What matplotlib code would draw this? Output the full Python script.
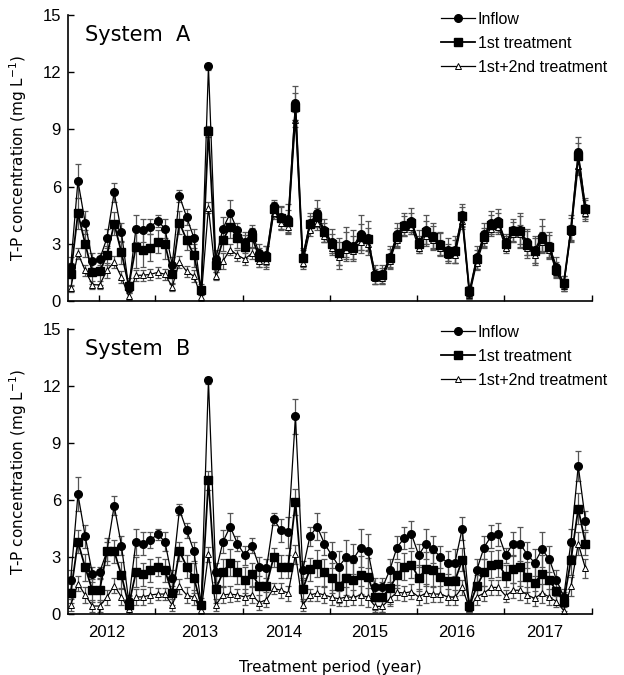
import numpy as np
import matplotlib
matplotlib.use("Agg")
from matplotlib import pyplot as plt
from matplotlib import font_manager

# narrow font for ticks / legend if available, else Liberation Sans
names = {f.name for f in font_manager.fontManager.ttflist}
NARROW = 'Liberation Sans Narrow' if 'Liberation Sans Narrow' in names else 'Liberation Sans'

# ---- data: monthly samples, index 0..71 (Jan 2012 - Dec 2017)
inflow = [1.8, 6.3, 4.1, 2.1, 2.2, 3.3, 5.7, 3.6, 0.7, 3.8, 3.7, 3.9,
          4.2, 3.8, 1.9, 5.5, 4.4, 3.3, 0.5, 12.3, 2.2, 3.8, 4.6, 3.7,
          3.1, 3.6, 2.5, 2.4, 5.0, 4.4, 4.3, 10.4, 2.3, 4.1, 4.6, 3.7,
          3.1, 2.5, 3.0, 2.9, 3.5, 3.3, 1.4, 1.4, 2.3, 3.5, 4.0, 4.2,
          3.1, 3.7, 3.4, 3.0, 2.7, 2.7, 4.5, 0.4, 2.3, 3.5, 4.1, 4.2,
          3.1, 3.7, 3.7, 3.1, 2.7, 3.4, 2.9, 1.8, 0.9, 3.8, 7.8, 4.9]
inflow_err = [0.5, 0.9, 0.6, 0.4, 0.3, 0.5, 0.5, 0.5, 0.3, 0.7, 0.6, 0.4,
              0.3, 0.5, 0.4, 0.3, 0.4, 0.5, 0.2, 0.2, 0.5, 0.6, 0.7, 0.4,
              0.5, 0.4, 0.5, 0.5, 0.3, 0.6, 0.8, 0.9, 0.5, 0.5, 0.7, 0.6,
              0.7, 0.8, 0.9, 0.8, 1.0, 0.9, 0.5, 0.5, 0.6, 0.6, 0.6, 0.7,
              0.6, 0.8, 0.7, 0.6, 0.6, 0.7, 0.6, 0.3, 0.6, 0.6, 0.6, 0.6,
              0.4, 0.6, 0.9, 0.7, 0.7, 0.9, 0.7, 0.5, 0.4, 0.7, 0.8, 0.5]

# System A
a_first = [1.4, 4.6, 3.0, 1.5, 1.55, 2.4, 4.05, 2.55, 0.8, 2.85, 2.7, 2.8,
           3.1, 3.0, 1.4, 4.1, 3.2, 2.4, 0.6, 8.9, 1.9, 3.2, 3.9, 3.3,
           2.85, 3.35, 2.3, 2.3, 4.8, 4.35, 4.15, 10.2, 2.25, 4.05, 4.4, 3.6,
           3.0, 2.5, 2.9, 2.8, 3.35, 3.25, 1.3, 1.35, 2.25, 3.35, 3.95, 4.1,
           3.0, 3.6, 3.35, 2.95, 2.5, 2.6, 4.45, 0.5, 2.2, 3.35, 4.0, 4.1,
           3.0, 3.65, 3.65, 2.95, 2.6, 3.25, 2.85, 1.65, 0.93, 3.75, 7.6, 4.8]
a_first_err = [0.6, 0.8, 0.7, 0.6, 0.7, 0.5, 0.6, 0.6, 0.4, 1.1, 0.9, 0.7,
               0.6, 0.8, 0.5, 0.6, 0.5, 0.6, 0.3, 0.3, 0.4, 0.6, 0.6, 0.5,
               0.6, 0.5, 0.5, 0.6, 0.4, 0.6, 0.6, 0.7, 0.4, 0.4, 0.5, 0.5,
               0.5, 0.6, 0.7, 0.6, 0.7, 0.6, 0.4, 0.4, 0.5, 0.5, 0.5, 0.5,
               0.4, 0.6, 0.6, 0.6, 0.5, 0.6, 0.5, 0.3, 0.5, 0.5, 0.5, 0.5,
               0.4, 0.5, 0.8, 0.7, 0.7, 0.7, 0.6, 0.4, 0.4, 0.6, 0.7, 0.5]
a_second = [0.66, 2.5, 1.6, 0.85, 0.85, 1.6, 2.05, 1.25, 0.25, 1.35, 1.35, 1.4,
            1.5, 1.4, 0.75, 2.05, 1.55, 1.3, 0.2, 4.9, 1.3, 2.1, 2.7, 2.4,
            2.2, 2.5, 2.1, 2.1, 4.6, 4.1, 3.9, 9.5, 2.0, 3.7, 4.1, 3.4,
            2.8, 2.3, 2.7, 2.6, 3.1, 3.0, 1.2, 1.2, 2.1, 3.2, 3.8, 3.9,
            2.8, 3.4, 3.2, 2.8, 2.4, 2.4, 4.2, 0.3, 2.0, 3.2, 3.8, 3.9,
            2.8, 3.5, 3.5, 2.8, 2.4, 3.1, 2.7, 1.5, 0.8, 3.6, 7.1, 4.6]
a_second_err = [0.2, 0.3, 0.3, 0.2, 0.2, 0.4, 0.3, 0.3, 0.2, 0.3, 0.3, 0.3,
                0.3, 0.3, 0.2, 0.3, 0.3, 0.3, 0.2, 0.3, 0.2, 0.4, 0.3, 0.3,
                0.3, 0.3, 0.3, 0.3, 0.3, 0.3, 0.3, 0.4, 0.3, 0.3, 0.4, 0.3,
                0.3, 0.4, 0.4, 0.4, 0.4, 0.4, 0.3, 0.3, 0.3, 0.4, 0.4, 0.4,
                0.3, 0.4, 0.4, 0.4, 0.3, 0.4, 0.4, 0.2, 0.4, 0.4, 0.4, 0.4,
                0.3, 0.4, 0.5, 0.4, 0.4, 0.5, 0.4, 0.3, 0.3, 0.4, 0.5, 0.4]

# System B
b_first = [1.1, 3.8, 2.45, 1.25, 1.25, 3.3, 3.3, 2.05, 0.45, 2.2, 2.1, 2.3,
           2.5, 2.3, 1.1, 3.3, 2.5, 1.9, 0.45, 7.05, 1.3, 2.2, 2.7, 2.2,
           1.8, 2.1, 1.5, 1.5, 3.0, 2.5, 2.5, 5.9, 1.3, 2.35, 2.65, 2.2,
           1.9, 1.5, 1.9, 1.8, 2.05, 1.95, 0.9, 0.9, 1.35, 2.05, 2.5, 2.6,
           1.9, 2.35, 2.3, 1.95, 1.75, 1.75, 2.85, 0.42, 1.45, 2.2, 2.6, 2.65,
           2.0, 2.35, 2.45, 1.95, 1.65, 2.1, 1.8, 1.2, 0.65, 2.85, 5.55, 3.7]
b_first_err = [0.5, 0.6, 0.7, 0.6, 0.6, 0.7, 0.6, 0.7, 0.5, 0.8, 0.6, 0.6,
               0.5, 0.6, 0.6, 0.5, 0.6, 0.8, 0.4, 0.5, 0.7, 0.7, 0.7, 0.6,
               0.7, 0.6, 0.9, 0.9, 0.5, 0.6, 0.6, 0.7, 0.6, 0.6, 0.7, 0.7,
               0.8, 0.9, 0.9, 0.9, 1.0, 1.0, 0.7, 0.8, 0.8, 0.7, 0.7, 0.7,
               0.7, 0.9, 0.9, 0.9, 0.8, 0.8, 0.6, 0.3, 0.6, 0.7, 0.7, 0.7,
               0.6, 0.7, 1.0, 0.8, 0.8, 1.0, 0.9, 0.7, 0.5, 0.8, 0.8, 0.6]
b_second = [0.47, 1.6, 1.0, 0.42, 0.42, 0.88, 1.5, 0.9, 0.25, 0.9, 0.9, 1.0,
            1.05, 1.05, 0.47, 1.45, 1.0, 0.88, 0.2, 3.15, 0.47, 1.0, 1.05, 1.0,
            0.9, 1.0, 0.6, 0.75, 1.35, 1.25, 1.1, 3.15, 0.47, 1.0, 1.1, 1.0,
            0.88, 0.8, 0.9, 0.88, 1.0, 0.88, 0.4, 0.4, 0.8, 1.15, 1.1, 1.18,
            0.9, 1.1, 1.05, 1.05, 0.9, 0.88, 1.4, 0.3, 0.9, 1.1, 1.4, 1.4,
            0.95, 1.25, 1.25, 1.0, 0.82, 1.1, 0.9, 0.65, 0.18, 1.45, 3.7, 2.4]
b_second_err = [0.3, 0.4, 0.4, 0.3, 0.3, 0.4, 0.4, 0.4, 0.3, 0.4, 0.4, 0.4,
                0.3, 0.3, 0.3, 0.4, 0.4, 0.4, 0.2, 0.4, 0.3, 0.4, 0.4, 0.3,
                0.4, 0.4, 0.4, 0.4, 0.3, 0.4, 0.4, 0.5, 0.3, 0.3, 0.4, 0.4,
                0.4, 0.4, 0.5, 0.4, 0.5, 0.5, 0.3, 0.3, 0.4, 0.4, 0.4, 0.4,
                0.4, 0.5, 0.4, 0.4, 0.4, 0.4, 0.4, 0.2, 0.4, 0.4, 0.4, 0.4,
                0.3, 0.4, 0.5, 0.4, 0.4, 0.5, 0.4, 0.3, 0.2, 0.5, 0.6, 0.5]

year_labels = ['2012', '2013', '2014', '2015', '2016', '2017']
year_label_pos = [5.0, 17.8, 29.4, 41.3, 53.3, 65.4]
year_tick_pos = [3.9, 11.65, 23.75, 35.75, 47.75, 59.75, 71.9]

months = np.arange(len(inflow))

systems = [('System A', a_first, a_first_err, a_second, a_second_err),
           ('System B', b_first, b_first_err, b_second, b_second_err)]

W, H = 624, 675
fig = plt.figure(figsize=(W / 100, H / 100), dpi=100)

# axes boxes in pixels: left, right, top, bottom
boxes = [(68, 592, 15, 301), (68, 592, 329, 614)]
leg_tops = [12, 325]

ERR_C = '#555555'

for (title, first, first_err, second, second_err), (l, r, t, b), lt in zip(systems, boxes, leg_tops):
    ax = fig.add_axes([l / W, 1 - b / H, (r - l) / W, (b - t) / H])

    for vals, err in ((second, second_err), (inflow, inflow_err), (first, first_err)):
        ax.errorbar(months, vals, yerr=err, fmt='none', ecolor=ERR_C,
                    elinewidth=0.9, capsize=2.5, capthick=0.9, zorder=1)

    h1, = ax.plot(months, inflow, '-o', color='black', lw=0.9, ms=5.5, zorder=3,
                  label='Inflow')
    h3, = ax.plot(months, second, '-^', color='black', lw=0.9, ms=4.5,
                  markerfacecolor='white', markeredgewidth=0.7, zorder=2,
                  label='1st+2nd treatment')
    h2, = ax.plot(months, first, '-s', color='black', lw=1.3, ms=5.5, zorder=4,
                  label='1st treatment')

    ax.set_xlim(-0.37, 71.9)
    ax.set_ylim(0, 15)
    ax.set_yticks([0, 3, 6, 9, 12, 15])
    ax.spines['top'].set_visible(False)
    ax.spines['right'].set_visible(False)
    for s in ('left', 'bottom'):
        ax.spines[s].set_linewidth(1.2)
    ax.tick_params(axis='both', direction='in', length=4, width=1)
    ax.tick_params(axis='y', labelsize=12, pad=5)
    for lab in ax.get_yticklabels():
        lab.set_family(NARROW)

    ax.set_xticks(year_tick_pos)
    ax.set_xticklabels([])
    ax.set_xticks(year_label_pos, minor=True)
    ax.tick_params(axis='x', which='minor', length=0, labelsize=12, pad=8)
    if title == 'System B':
        ax.set_xticklabels(year_labels, minor=True, family=NARROW)
        ax.set_xlabel('Treatment period (year)', fontsize=11, labelpad=14)

    ax.set_ylabel('T-P concentration (mg L$^{-1}$)', fontsize=11, labelpad=10)
    ax.text(17 / (r - l), 1 - 20 / (b - t), title.replace(' ', '  '),
            transform=ax.transAxes, fontsize=15, va='center', ha='left')

    fig.legend([h1, h2, h3], ['Inflow', '1st treatment', '1st+2nd treatment'],
               loc='upper left', bbox_to_anchor=(441 / W, 1 - lt / H),
               frameon=False, handlelength=2.1,
               handletextpad=0.2, labelspacing=0.55, borderpad=0,
               borderaxespad=0, prop={'family': NARROW, 'size': 11.5})

fig.savefig('out.png', dpi=100)
